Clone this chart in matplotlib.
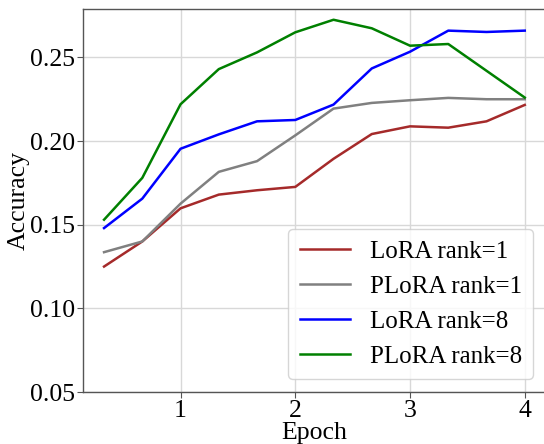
import matplotlib
matplotlib.use("Agg")
import matplotlib.pyplot as plt
import numpy as np

epochs = [1/3, 2/3, 1, 4/3, 5/3, 2, 7/3, 8/3, 3, 10/3, 11/3, 4]
lora_r1 = [0.125, 0.140, 0.1598, 0.168, 0.1706, 0.1726, 0.1894, 0.2042, 0.2088, 0.208, 0.2118, 0.2216]
plora_r1 = [0.1336, 0.140, 0.1626, 0.1816, 0.188, 0.2034, 0.2194, 0.2228, 0.2244, 0.2258, 0.225, 0.225]
lora_r8 = [0.148, 0.1656, 0.1954, 0.204, 0.2118, 0.2126, 0.2218, 0.2434, 0.2534, 0.266, 0.2652, 0.266]
plora_r8 = [0.153, 0.178, 0.222, 0.243, 0.253, 0.265, 0.2725, 0.2674, 0.257, 0.258, 0.242, 0.226]

series = [
    ("LoRA rank=1", lora_r1, "#a52a2a"),
    ("PLoRA rank=1", plora_r1, "gray"),
    ("LoRA rank=8", lora_r8, "blue"),
    ("PLoRA rank=8", plora_r8, "green"),
]

plt.rcParams['font.family'] = ['Liberation Serif', 'DejaVu Serif']
fig = plt.figure(figsize=(5.44, 4.44), dpi=100)
ax = fig.add_axes([0.1526, 0.117, 0.85, 0.863])
for name, vals, c in series:
    ax.plot(epochs, vals, color=c, lw=1.8, label=name)

ax.set_ylim(0.05, 0.279)
ax.set_xlim(0.15, 4.18)
ax.set_xticks([1, 2, 3, 4])
ax.set_yticks([0.05, 0.10, 0.15, 0.20, 0.25])
ax.yaxis.set_major_formatter(matplotlib.ticker.FormatStrFormatter('%.2f'))
ax.grid(True, color='#d8d8d8', lw=1.0)
ax.set_axisbelow(True)
for s in ax.spines.values():
    s.set_color('#555555')
    s.set_linewidth(1.0)
ax.tick_params(labelsize=18.5, color='#555555', length=4, pad=2)
ax.set_xlabel("Epoch", fontsize=18.5, labelpad=0)
ax.set_ylabel("Accuracy", fontsize=18.5, labelpad=0)
leg = ax.legend(loc='lower right', fontsize=18, frameon=True, fancybox=True,
                handlelength=2.0, borderpad=0.45, labelspacing=0.5, handletextpad=0.8,
                borderaxespad=0, bbox_to_anchor=(0.973, 0.034))
fig.savefig("out.png", dpi=100)
